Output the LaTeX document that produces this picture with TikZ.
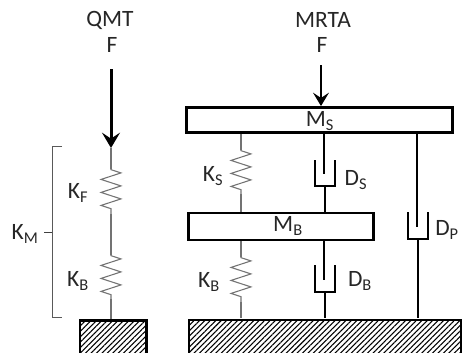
\documentclass[tikz,border=0pt]{standalone}
\usepackage{fontspec}
\setmainfont{Carlito}
\usetikzlibrary{arrows.meta,decorations.pathmorphing,patterns.meta}
\begin{document}
\begin{tikzpicture}[x=0.03cm, y=-0.03cm, every node/.style={font=\fontsize{20}{22}\selectfont, text=black!85, inner sep=0pt},
  massbox/.style={draw=black, line width=0.62mm, fill=white},
  groundbox/.style={draw=black, line width=0.6mm, pattern={Lines[angle=45,distance=1.15mm,line width=0.32mm]}},
  spring/.style={draw=black!55, line width=0.32mm},
  zig/.style={decorate, decoration={zigzag, segment length=0.39cm, amplitude=0.3cm, pre length=0.02cm, post length=0.02cm}},
  rod/.style={draw=black, line width=0.85mm},
  cup/.style={draw=black, line width=0.7mm},
  force/.style={draw=black, line width=0.9mm, -{Stealth[length=4.6mm, width=5.4mm, inset=1.8mm]}}]
  \useasboundingbox (0,0) rectangle (463,352);
  % ground blocks
  \node[groundbox, line width=0.75mm, minimum width=2.0cm, minimum height=1.5cm, anchor=north west] (gq) at (78.5,319) {};
  \node[groundbox, minimum width=8.15cm, minimum height=1.5cm, anchor=north west] (gm) at (188,319) {};
  % masses
  \node[massbox, line width=0.9mm, minimum width=7.95cm, minimum height=0.76cm] (ms) at (319.5,120) {};
  \node[massbox, minimum width=5.55cm, minimum height=0.8cm] (mb) at (281,226.5) {};
  % titles
  \node (qmt) at (110,20) {QMT};
  \node (fq) at (112,45) {F};
  \node (mrta) at (323,20) {MRTA};
  \node (fm) at (322,45) {F};
  \node at (320,121) (msl) {M\textsubscript{S}};
  \node at (288,226) (mbl) {M\textsubscript{B}};
  % QMT side
  \coordinate (fqa) at (111,69);
  \coordinate (fqb) at (111,148);
  \coordinate (kfa) at (111,169);
  \coordinate (kfb) at (111,214);
  \coordinate (kba) at (111,255);
  \coordinate (kbb) at (111,299);
  \coordinate (kbc) at (111,319);
  \draw[force] (fqa) -- (fqb);
  \draw[spring] (fqb) -- (kfa);
  \draw[spring, zig] (kfa) -- (kfb);
  \draw[spring] (kfb) -- (kba);
  \draw[spring, zig] (kba) -- (kbb);
  \draw[spring] (kbb) -- (kbc);
  \node (kf) at (78,193) {K\textsubscript{F}};
  \node (kbq) at (78,281) {K\textsubscript{B}};
  % bracket
  \coordinate (bra) at (62,146.5);
  \coordinate (brb) at (62,317);
  \coordinate (brm) at (52,232);
  \coordinate (brt) at (44,232);
  \draw[draw=black!65, line width=0.3mm] (bra) -- (52,146.5) -- (52,317) -- (brb);
  \draw[draw=black!75, line width=0.3mm] (brt) -- (brm);
  \node (km) at (25,234) {K\textsubscript{M}};
  % MRTA side
  \coordinate (fma) at (321,65);
  \coordinate (fmb) at (321,106);
  \draw[force, line width=0.7mm, -{Stealth[length=4mm, width=4.8mm, inset=1.6mm]}] (fma) -- (fmb);
  % springs
  \coordinate (ksa) at (241,134);
  \coordinate (ksb) at (241,150);
  \coordinate (ksc) at (241,194);
  \coordinate (ksd) at (241,212);
  \draw[spring] (ksa) -- (ksb);
  \draw[spring, zig] (ksb) -- (ksc);
  \draw[spring] (ksc) -- (ksd);
  \coordinate (kma) at (241,241);
  \coordinate (kmb) at (241,257);
  \coordinate (kmc) at (241,302);
  \coordinate (kmd) at (241,318);
  \draw[spring] (kma) -- (kmb);
  \draw[spring, zig] (kmb) -- (kmc);
  \draw[spring] (kmc) -- (kmd);
  \node (ks) at (213,176) {K\textsubscript{S}};
  \node (kb) at (209,282) {K\textsubscript{B}};
  % dampers
  \coordinate (dsa) at (324,134);
  \coordinate (dsb) at (324,174);
  \coordinate (dsc) at (325,187);
  \coordinate (dsd) at (325,212);
  \draw[rod] (dsa) -- (dsb);
  \draw[cup] (315,160) -- (315,186) -- (335,186) -- (335,160);
  \draw[rod] (dsc) -- (dsd);
  \node (ds) at (356,180) {D\textsubscript{S}};
  \coordinate (dba) at (324,241);
  \coordinate (dbb) at (324,280);
  \coordinate (dbc) at (325,292);
  \coordinate (dbd) at (325,318);
  \draw[rod] (dba) -- (dbb);
  \draw[cup] (315,265) -- (315,292) -- (335,292) -- (335,265);
  \draw[rod] (dbc) -- (dbd);
  \node (db) at (360,281) {D\textsubscript{B}};
  \coordinate (dpa) at (417,134);
  \coordinate (dpb) at (417,227);
  \coordinate (dpc) at (418,239);
  \coordinate (dpd) at (418,318);
  \draw[rod, line width=0.6mm] (dpa) -- (dpb);
  \draw[cup] (408,212) -- (408,239) -- (428,239) -- (428,212);
  \draw[rod, line width=0.7mm] (dpc) -- (dpd);
  \node (dp) at (447,230) {D\textsubscript{P}};
\end{tikzpicture}
\end{document}
